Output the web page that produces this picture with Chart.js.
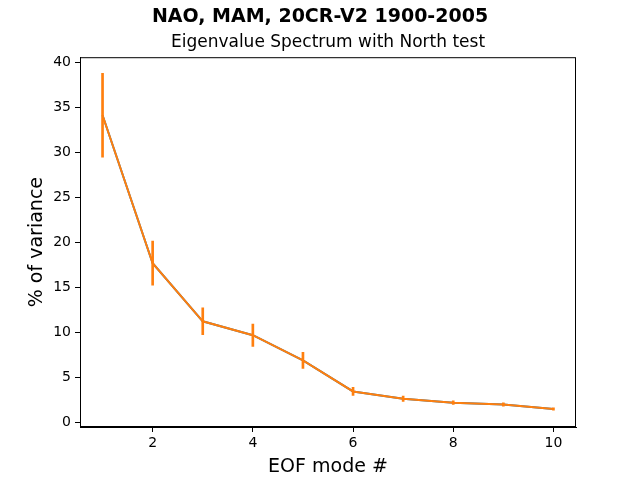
<!DOCTYPE html>
<html>
<head>
<meta charset="utf-8">
<script src="https://cdn.jsdelivr.net/npm/chart.js@4/dist/chart.umd.min.js"></script>
<style>
  html, body { margin: 0; padding: 0; background: #fff; }
  canvas { display: block; }
</style>
</head>
<body>
<canvas id="chart" width="640" height="480"></canvas>
<script>
// EOF modes and explained variance (%), with North test error half-widths
const modes = [1, 2, 3, 4, 5, 6, 7, 8, 9, 10];
const variance = [34.15, 17.7, 11.25, 9.7, 6.9, 3.45, 2.65, 2.2, 2.0, 1.5];
const errors = [4.65, 2.45, 1.5, 1.25, 0.9, 0.45, 0.3, 0.2, 0.18, 0.12];
const xTicks = [2, 4, 6, 8, 10];
const yTicks = [0, 5, 10, 15, 20, 25, 30, 35, 40];

const font = "'DejaVu Sans', sans-serif";

const linePoints = modes.map((m, i) => ({ x: m, y: variance[i] }));
const errPoints = modes.map((m, i) => ({ x: m, y: [variance[i] - errors[i], variance[i] + errors[i]] }));

// draws the box around the plot area like matplotlib
const frame = {
  id: "frame",
  afterDraw(chart) {
    const { ctx, chartArea: a } = chart;
    ctx.save();
    ctx.strokeStyle = "#000";
    ctx.lineWidth = 1;
    ctx.strokeRect(a.left + 0.5, a.top + 0.5, a.right - a.left - 1, a.bottom - a.top - 1);
    ctx.restore();
  }
};

new Chart(document.getElementById("chart"), {
  data: {
    datasets: [
      {
        type: "line",
        label: "eig",
        data: linePoints,
        borderColor: "#1f77b4",
        borderWidth: 2,
        pointRadius: 0,
        tension: 0,
        order: 3
      },
      {
        type: "line",
        label: "errorbar",
        data: linePoints,
        borderColor: "#ff7f0e",
        borderWidth: 2,
        pointRadius: 0,
        tension: 0,
        order: 2
      },
      {
        type: "bar",
        label: "north",
        data: errPoints,
        backgroundColor: "#ff7f0e",
        borderWidth: 0,
        barThickness: 2,
        order: 1
      }
    ]
  },
  options: {
    responsive: false,
    animation: false,
    layout: { padding: 0 },
    plugins: {
      legend: { display: false },
      tooltip: { enabled: false },
      title: {
        display: true,
        text: "NAO, MAM, 20CR-V2 1900-2005",
        color: "#000",
        font: { family: font, size: 19, weight: "bold" },
        padding: { top: 6, bottom: 3 }
      },
      subtitle: {
        display: true,
        fullSize: false,
        text: "Eigenvalue Spectrum with North test",
        color: "#000",
        font: { family: font, size: 17 },
        padding: { top: 1, bottom: 4 }
      }
    },
    scales: {
      x: {
        type: "linear",
        offset: false,
        min: 0.55,
        max: 10.45,
        afterFit(scale) { scale.height = 53; },
        afterBuildTicks(scale) { scale.ticks = xTicks.map(v => ({ value: v })); },
        grid: { display: true, offset: false, drawOnChartArea: false, tickLength: 5, color: "#000", tickWidth: 1 },
        border: { display: true, color: "#000" },
        ticks: { color: "#000", font: { family: font, size: 14 }, padding: 3, maxRotation: 0 },
        title: {
          display: true,
          text: "EOF mode #",
          color: "#000",
          font: { family: font, size: 19 },
          padding: { top: 0, bottom: 2 }
        }
      },
      y: {
        type: "linear",
        min: -0.5,
        max: 40.6,
        afterFit(scale) { scale.width = 80; },
        afterBuildTicks(scale) { scale.ticks = yTicks.map(v => ({ value: v })); },
        grid: { display: true, drawOnChartArea: false, tickLength: 5, color: "#000", tickWidth: 1 },
        border: { display: true, color: "#000" },
        ticks: { color: "#000", font: { family: font, size: 14 }, padding: 4 },
        title: {
          display: true,
          text: "% of variance",
          color: "#000",
          font: { family: font, size: 19 },
          padding: { top: 26, bottom: 0 }
        }
      },
      // empty right-hand axis, only reserves the figure margin
      yRight: {
        type: "linear",
        position: "right",
        min: -0.5,
        max: 40.6,
        afterFit(scale) { scale.width = 64; },
        grid: { display: false },
        border: { display: false },
        ticks: { display: false }
      }
    }
  },
  plugins: [frame]
});
</script>
</body>
</html>
